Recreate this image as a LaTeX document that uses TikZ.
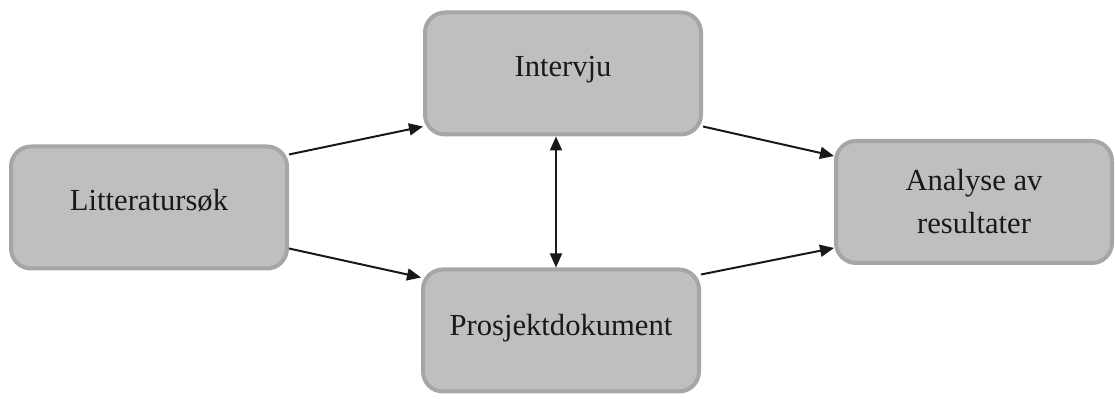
\documentclass[tikz,border=0pt]{standalone}
\usepackage{fontspec}
\setmainfont{Liberation Serif}
\usetikzlibrary{arrows.meta}
\definecolor{boxfill}{HTML}{BFBFBF}
\definecolor{boxline}{HTML}{A6A6A6}
\tikzset{
  stepbox/.style={draw=boxline, fill=boxfill, line width=2pt, rounded corners=10pt,
    minimum width=138pt, minimum height=61pt, align=center, inner sep=2pt,
    font=\fontsize{15.3}{21.5}\selectfont, text=black!90},
  conn/.style={line width=1pt, draw=black!90, -{Triangle[length=7pt,width=6pt]}},
  dconn/.style={line width=1pt, draw=black!90, {Triangle[length=7pt,width=6pt]}-{Triangle[length=7pt,width=6pt]}}
}
\begin{document}
\begin{tikzpicture}[x=0.5pt,y=-0.5pt]
\useasboundingbox (0,0) rectangle (1115,399);
\node[stepbox, text depth=7.5pt] (lit) at (149,207.5) {Litteratursøk};
\node[stepbox, text depth=7pt] (int) at (563,73.5) {Intervju};
\node[stepbox, text depth=6pt] (pro) at (561,330.5) {Prosjektdokument};
\node[stepbox] (ana) at (974,202) {Analyse av\\resultater};
\draw[conn] ([yshift=-5pt]lit.north east) -- ([yshift=5pt]int.south west);
\draw[conn] ([yshift=11pt]lit.south east) -- ([yshift=-5pt]pro.north west);
\draw[conn] ([yshift=5pt]int.south east) -- ([yshift=-8.5pt]ana.north west);
\draw[conn] ([yshift=-3.5pt]pro.north east) -- ([yshift=8.5pt]ana.south west);
\draw[dconn] ([xshift=-3.5pt]int.south) -- ([xshift=-2.5pt]pro.north);
\end{tikzpicture}
\end{document}
